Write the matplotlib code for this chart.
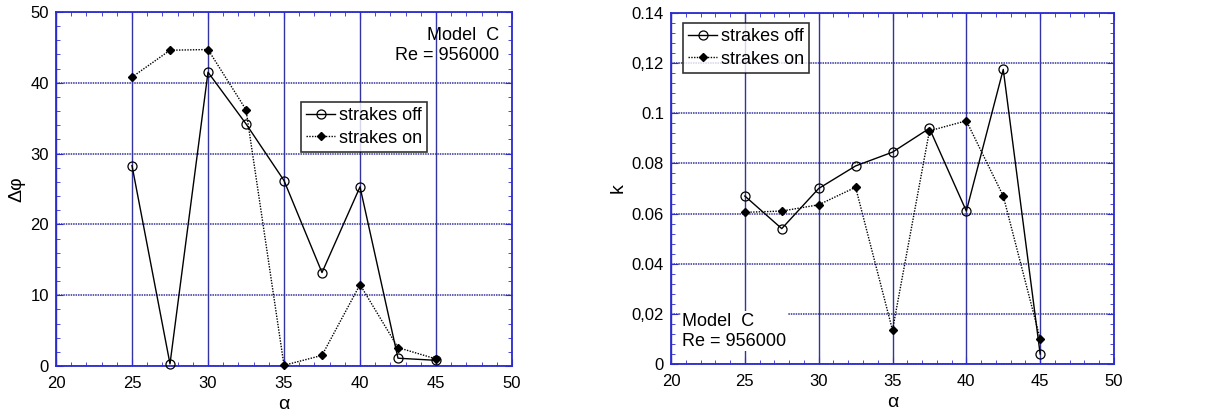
import matplotlib.pyplot as plt
from matplotlib.ticker import MultipleLocator

plt.rcParams['font.family'] = ['Liberation Sans', 'DejaVu Sans']

alpha = [25, 27.5, 30, 32.5, 35, 37.5, 40, 42.5, 45]
dphi_off = [28.3, 0.3, 41.5, 34.2, 26.2, 13.2, 25.3, 1.1, 0.8]
dphi_on = [40.8, 44.6, 44.7, 36.2, 0.1, 1.5, 11.5, 2.6, 1.0]
k_off = [0.067, 0.054, 0.070, 0.079, 0.0845, 0.094, 0.061, 0.1175, 0.004]
k_on = [0.0605, 0.061, 0.0635, 0.0705, 0.0135, 0.093, 0.097, 0.067, 0.010]
k_ticks = [0, 0.02, 0.04, 0.06, 0.08, 0.1, 0.12, 0.14]
k_labels = ['0', '0,02', '0.04', '0.06', '0.08', '0.1', '0,12', '0.14']

BLUE = '#2b2bd0'
GRID = '#3434a0'


def style_axes(ax, ymajor, yminor):
    ax.set_xlim(20, 50)
    ax.xaxis.set_major_locator(MultipleLocator(5))
    ax.xaxis.set_minor_locator(MultipleLocator(1))
    ax.yaxis.set_major_locator(MultipleLocator(ymajor))
    ax.yaxis.set_minor_locator(MultipleLocator(yminor))
    for s in ax.spines.values():
        s.set_color(BLUE)
        s.set_linewidth(1.3)
    ax.tick_params(which='both', direction='in', top=True, right=True,
                   color=BLUE, labelsize=12)
    ax.tick_params(which='major', length=5)
    ax.tick_params(which='minor', length=3)
    ax.tick_params(axis='x', pad=7)
    ax.tick_params(axis='y', pad=5)
    ax.grid(True, axis='x', color=GRID, linewidth=1.0)
    ax.grid(True, axis='y', color=GRID, linewidth=1.1, linestyle=(0, (1, 0.6)))
    ax.set_axisbelow(True)
    ax.set_xlabel('α', fontsize=14, labelpad=4)


def draw_series(ax, yoff, yon):
    ax.plot(alpha, yoff, '-', color='black', linewidth=1.0, marker='o',
            markersize=6.5, markerfacecolor='none', markeredgewidth=0.9,
            label='strakes off', clip_on=False, zorder=3)
    ax.plot(alpha, yon, linestyle=(0, (1, 1)), color='black', linewidth=1.0,
            marker='D', markersize=4.5, markerfacecolor='black',
            label='strakes on', clip_on=False, zorder=3)


fig = plt.figure(figsize=(12.13, 4.15), dpi=100)
ax1 = fig.add_axes([56 / 1213, 1 - 366 / 415, 456 / 1213, 354 / 415])
ax2 = fig.add_axes([671 / 1213, 1 - 364 / 415, 443 / 1213, 351 / 415])

# left panel: phase difference
style_axes(ax1, 10, 2)
ax1.set_ylim(0, 50)
draw_series(ax1, dphi_off, dphi_on)
ax1.set_ylabel('Δφ', fontsize=14, labelpad=4)
ax1.text(0.971, 0.958, 'Model  C\nRe = 956000', transform=ax1.transAxes,
         ha='right', va='top', fontsize=13, linespacing=1.25)
leg1 = ax1.legend(loc='upper left', bbox_to_anchor=(0.537, 0.746),
                  fontsize=13, frameon=True, fancybox=False, edgecolor='black',
                  handlelength=1.6, handletextpad=0.2, borderpad=0.3,
                  labelspacing=0.3, borderaxespad=0)
leg1.get_frame().set_linewidth(1.2)

# right panel: k
style_axes(ax2, 0.02, 0.004)
ax2.set_ylim(0, 0.14)
draw_series(ax2, k_off, k_on)
ax2.set_yticks(k_ticks)
ax2.set_yticklabels(k_labels)
ax2.set_ylabel('k', fontsize=14, labelpad=4)
ax2.text(0.025, 0.04, 'Model  C\nRe = 956000', transform=ax2.transAxes,
         ha='left', va='bottom', fontsize=13, linespacing=1.25,
         bbox=dict(facecolor='white', edgecolor='none', pad=1))
leg2 = ax2.legend(loc='upper left', bbox_to_anchor=(0.027, 0.972),
                  fontsize=13, frameon=True, fancybox=False, edgecolor='black',
                  handlelength=1.6, handletextpad=0.2, borderpad=0.3,
                  labelspacing=0.3, borderaxespad=0)
leg2.get_frame().set_linewidth(1.2)

fig.savefig('out.png', dpi=100)
